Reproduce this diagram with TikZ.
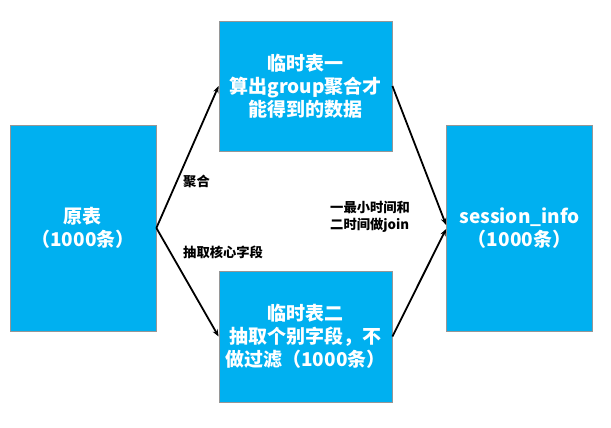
\documentclass[tikz,border=0pt]{standalone}
\usepackage{fontspec}
\setmainfont{Noto Sans CJK SC}
\usetikzlibrary{arrows.meta}
\definecolor{boxblue}{RGB}{0,176,240}
\definecolor{boxline}{RGB}{150,150,150}
\tikzset{
  tablebox/.style={draw=boxline, line width=0.8pt, fill=boxblue, text=white,
    font=\bfseries\fontsize{19}{23}\selectfont, align=center, inner sep=0pt},
  edgelabel/.style={font=\bfseries\fontsize{13.3}{17}\selectfont, text=black, inner sep=0pt},
  flow/.style={line width=1.8pt, -{Stealth[length=7pt,width=5.5pt]}}
}
\begin{document}
\begin{tikzpicture}[x=1pt,y=-1pt]
\useasboundingbox (0,0) rectangle (611,428);
\node[tablebox, minimum width=146pt, minimum height=206pt] (L) at (83,228) {原表\\（1000条）};
\node[tablebox, minimum width=173pt, minimum height=130pt] (T) at (305.5,86) {临时表一\\算出group聚合才\\能得到的数据};
\node[tablebox, minimum width=173pt, minimum height=131pt] (B) at (305.5,336.5) {临时表二\\抽取个别字段，不\\做过滤（1000条）};
\node[tablebox, minimum width=146pt, minimum height=206pt] (R) at (519.5,228) {session\_info\\（1000条）};
\node[edgelabel, anchor=west] (la) at (183,181) {聚合};
\node[edgelabel, anchor=west] (lb) at (183,252) {抽取核心字段};
\node[edgelabel, anchor=west, align=left] (lc) at (330,216.5) {一最小时间和\\二时间做join};
\draw[flow] (L.east) -- (T.west);
\draw[flow] (L.east) -- (B.west);
\draw[flow] (T.east) -- ([yshift=3pt]R.west);
\draw[flow] (B.east) -- ([yshift=-1pt]R.west);
\end{tikzpicture}
\end{document}
